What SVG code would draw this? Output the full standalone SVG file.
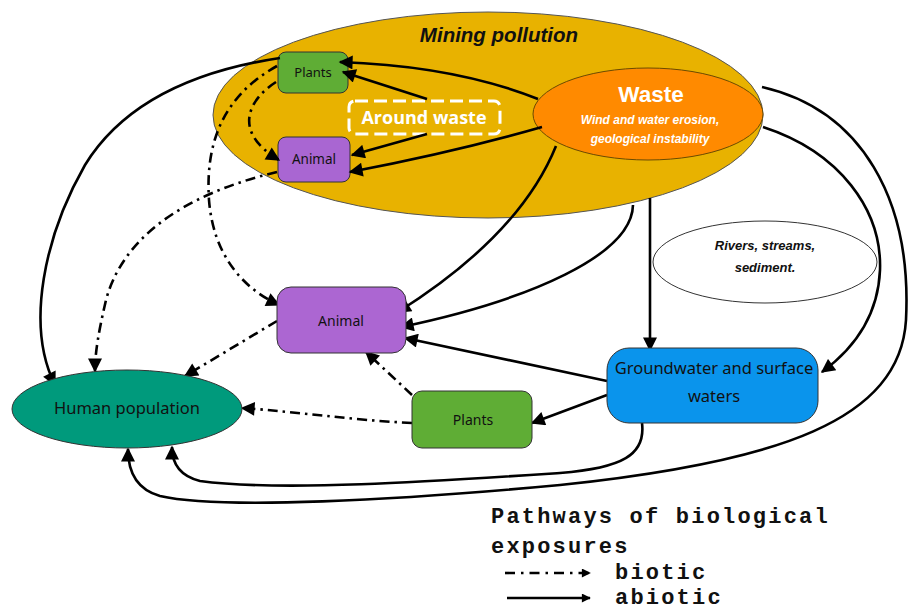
<svg xmlns="http://www.w3.org/2000/svg" width="909" height="611" viewBox="0 0 909 611">
  <defs>
    <marker id="head" viewBox="0 0 10 10" refX="9" refY="5" markerWidth="16" markerHeight="14" markerUnits="userSpaceOnUse" orient="auto">
      <path d="M0,0 L10,5 L0,10 Z" fill="#000"/>
    </marker>
    <marker id="headSmall" viewBox="0 0 10 10" refX="9" refY="5" markerWidth="10" markerHeight="9" markerUnits="userSpaceOnUse" orient="auto">
      <path d="M0,0 L10,5 L0,10 Z" fill="#000"/>
    </marker>
    <style>
      .abiotic { fill: none; stroke: #000; stroke-width: 2.6; marker-end: url(#head); }
      .biotic { fill: none; stroke: #000; stroke-width: 2.6; stroke-dasharray: 10 5 2.5 5; marker-end: url(#head); }
      .box { stroke: #333; stroke-width: 1; }
      .lbl { font-family: "Noto Sans", "Open Sans", sans-serif; fill: #111; text-anchor: middle; }
      .wlbl { font-family: "Liberation Sans", Arial, sans-serif; font-weight: bold; font-style: italic; text-anchor: middle; }
      .legend { font-family: "Liberation Mono", "Courier New", monospace; font-weight: bold; font-size: 22px; letter-spacing: 2.2px; fill: #111; }
    </style>
  </defs>

  <rect width="909" height="611" fill="#fff"/>

  <!-- Mining pollution area -->
  <g id="mining">
    <ellipse cx="488" cy="115" rx="275" ry="103" fill="#E8B200" stroke="#555" stroke-width="1"/>
    <text x="499" y="42" class="wlbl" font-size="20.5" fill="#111">Mining pollution</text>
  </g>

  <!-- Waste source -->
  <g id="waste">
    <ellipse cx="648" cy="114" rx="115" ry="46" fill="#FF8A00" stroke="#6b4a00" stroke-width="1"/>
    <text x="651" y="102" font-family="Liberation Sans, Arial, sans-serif" font-weight="bold" font-size="22.5" fill="#fff" text-anchor="middle">Waste</text>
    <text x="650" y="124" class="wlbl" font-size="12" fill="#fff">Wind and water erosion,</text>
    <text x="650" y="143" class="wlbl" font-size="12" fill="#fff">geological instability</text>
  </g>

  <!-- Around waste label -->
  <g id="around-waste">
    <rect x="349" y="101" width="151" height="33" rx="6" fill="none" stroke="#fff" stroke-width="3" stroke-dasharray="13 6"/>
    <text x="424" y="124" font-family="Open Sans, Noto Sans, sans-serif" font-weight="bold" font-size="18" fill="#fff" text-anchor="middle">Around waste</text>
  </g>

  <!-- Plants near waste -->
  <g id="plants-top">
    <rect x="278" y="52" width="70" height="41" rx="8" fill="#5FAD35" class="box"/>
    <text x="313" y="77" class="lbl" font-size="13">Plants</text>
  </g>

  <!-- Animal near waste -->
  <g id="animal-top">
    <rect x="278" y="137" width="72" height="45" rx="8" fill="#A966D2" class="box"/>
    <text x="314" y="164" class="lbl" font-size="13.5">Animal</text>
  </g>

  <!-- Rivers, streams, sediment -->
  <g id="rivers">
    <ellipse cx="765" cy="262" rx="112" ry="41" fill="#fff" stroke="#333" stroke-width="1"/>
    <text x="765" y="250" class="wlbl" font-size="13" fill="#111">Rivers, streams,</text>
    <text x="765" y="272" class="wlbl" font-size="13" fill="#111">sediment.</text>
  </g>

  <!-- Connectors -->
  <g id="connectors">
    <!-- abiotic -->
    <path class="abiotic" d="M538,99 Q455,66 340,62"/>
    <path class="abiotic" d="M427,99 L343,72"/>
    <path class="abiotic" d="M427,134 L352,155"/>
    <path class="abiotic" d="M542,127 Q455,152 350,172"/>
    <path class="abiotic" d="M280,58 C200,70 125,100 85,165 C45,235 25,325 55,385"/>
    <path class="abiotic" d="M556,146 Q520,235 398,312"/>
    <path class="abiotic" d="M633,205 C632,255 530,300 401,327"/>
    <path class="abiotic" d="M607,381 L405,338"/>
    <path class="abiotic" d="M650,198 L650,350"/>
    <path class="abiotic" d="M607,395 L532,423"/>
    <path class="abiotic" d="M763,127 C840,152 882,210 880,270 C878,318 852,350 822,372"/>
    <path class="abiotic" d="M762,87 C862,110 912,200 906,320 C900,420 780,462 560,485 C400,500 220,510 160,496 C135,489 128,470 128,449"/>
    <path class="abiotic" d="M642,423 C646,455 622,468 560,473 C440,481 280,492 200,481 C180,476 172,463 172,447"/>
    <!-- biotic -->
    <path class="biotic" d="M276,82 C248,100 232,132 279,160"/>
    <path class="biotic" d="M277,66 C225,95 205,140 209,200 C213,252 240,287 279,305"/>
    <path class="biotic" d="M277,172 C180,195 122,240 106,300 C99,330 95,352 95,371"/>
    <path class="biotic" d="M277,321 L185,376"/>
    <path class="biotic" d="M412,395 L366,352"/>
    <path class="biotic" d="M412,423 C350,420 300,412 242,408"/>
  </g>

  <!-- Animal (lower) -->
  <g id="animal">
    <rect x="277" y="287" width="129" height="66" rx="14" fill="#AC66D2" class="box"/>
    <text x="341" y="326" class="lbl" font-size="14">Animal</text>
  </g>

  <!-- Plants (lower) -->
  <g id="plants">
    <rect x="412" y="391" width="120" height="57" rx="10" fill="#5FAD35" class="box"/>
    <text x="473" y="425" class="lbl" font-size="14">Plants</text>
  </g>

  <!-- Groundwater and surface waters -->
  <g id="groundwater">
    <rect x="607" y="348" width="211" height="75" rx="22" fill="#0A94EC" class="box"/>
    <text x="714" y="374" class="lbl" font-size="16.5">Groundwater and surface</text>
    <text x="714" y="402" class="lbl" font-size="16.5">waters</text>
  </g>

  <!-- Human population -->
  <g id="human">
    <ellipse cx="127" cy="409" rx="115" ry="39" fill="#009A7C" stroke="#333" stroke-width="1"/>
    <text x="127" y="414" class="lbl" font-size="16.5">Human population</text>
  </g>

  <!-- Legend -->
  <g id="legend">
    <text x="491" y="523" class="legend">Pathways of biological</text>
    <text x="491" y="553" class="legend">exposures</text>
    <line x1="505" y1="573" x2="590" y2="573" stroke="#000" stroke-width="2.6" stroke-dasharray="10 6 2.5 6" marker-end="url(#headSmall)"/>
    <text x="615" y="579" class="legend">biotic</text>
    <line x1="507" y1="598" x2="590" y2="598" stroke="#000" stroke-width="2.6" marker-end="url(#headSmall)"/>
    <text x="615" y="604" class="legend">abiotic</text>
  </g>
</svg>
